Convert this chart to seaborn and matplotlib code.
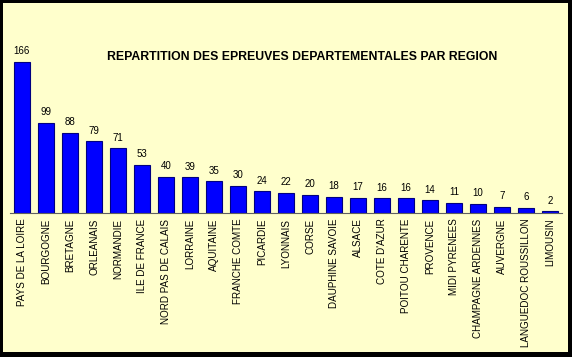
import matplotlib
matplotlib.use("Agg")
import matplotlib.pyplot as plt
import seaborn as sns
import numpy as np
import pandas as pd
from matplotlib.patches import Rectangle

regions = ["PAYS DE LA LOIRE", "BOURGOGNE", "BRETAGNE", "ORLEANAIS", "NORMANDIE",
           "ILE DE FRANCE", "NORD PAS DE CALAIS", "LORRAINE", "AQUITAINE",
           "FRANCHE COMTE", "PICARDIE", "LYONNAIS", "CORSE", "DAUPHINE SAVOIE",
           "ALSACE", "COTE D'AZUR", "POITOU CHARENTE", "PROVENCE", "MIDI PYRENEES",
           "CHAMPAGNE ARDENNES", "AUVERGNE", "LANGUEDOC ROUSSILLON", "LIMOUSIN"]
epreuves = [166, 99, 88, 79, 71, 53, 40, 39, 35, 30, 24, 22, 20, 18, 17, 16, 16,
            14, 11, 10, 7, 6, 2]

df = pd.DataFrame({"region": regions, "n": epreuves})

sns.set_style("white")
plt.rcParams["font.family"] = ["Liberation Sans", "DejaVu Sans"]
plt.rcParams["text.color"] = "black"
plt.rcParams["xtick.color"] = "black"

bg = "#FFFFCC"
fig = plt.figure(figsize=(5.72, 3.57), dpi=100, facecolor=bg)
ax = fig.add_axes([10 / 572, 1 - 213 / 357, 552 / 572, 173 / 357])
ax.set_facecolor(bg)

sns.barplot(data=df, x="region", y="n", color="#0000FF", saturation=1,
            edgecolor="#000080", linewidth=0.8, width=0.68, ax=ax)

ax.bar_label(ax.containers[0], fontsize=7, padding=4, color="black")

ax.set_ylim(0, 190)
ax.set_xlim(-0.5, len(regions) - 0.5)
ax.set_xlabel("")
ax.set_ylabel("")
ax.set_yticks([])
for s in ["top", "right", "left"]:
    ax.spines[s].set_visible(False)
ax.spines["bottom"].set_color("#606060")
ax.spines["bottom"].set_linewidth(0.8)

ax.set_xticks(range(len(regions)))
ax.set_xticklabels(regions, rotation=90, fontsize=7.1, color="black")
ax.tick_params(axis="x", which="major", length=0, pad=4)
ax.set_xticks(np.arange(-0.5, len(regions), 1), minor=True)
ax.tick_params(axis="x", which="minor", length=3, width=0.8, color="#606060",
               direction="out")

fig.text(302 / 572, 1 - 57 / 357, "REPARTITION DES EPREUVES DEPARTEMENTALES PAR REGION",
         ha="center", va="center", fontsize=8.8, fontweight="bold", color="black")

# cadre noir, plus epais en bas et a droite
W, H = 572, 357
for x, y, w, h in [(0, 0, W, 5), (0, H - 3, W, 3), (0, 0, 3, H), (W - 4, 0, 4, H)]:
    fig.patches.append(Rectangle((x / W, y / H), w / W, h / H, transform=fig.transFigure,
                                 facecolor="black", edgecolor="none", zorder=10))

fig.savefig("out.png", dpi=100, facecolor=bg)
